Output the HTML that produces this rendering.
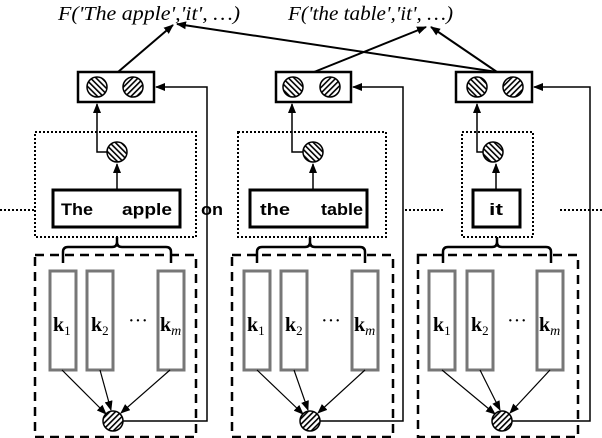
<!DOCTYPE html>
<html><head><meta charset="utf-8"><style>html,body{margin:0;padding:0;background:#fff}svg{display:block}</style></head>
<body>
<svg width="602" height="438" viewBox="0 0 602 438" xmlns="http://www.w3.org/2000/svg">
<defs>
<pattern id="hb" patternUnits="userSpaceOnUse" width="4" height="4" patternTransform="rotate(-45)"><rect width="4" height="4" fill="#fff"/><rect width="1.6" height="4" fill="#000"/></pattern>
<pattern id="hf" patternUnits="userSpaceOnUse" width="4" height="4" patternTransform="rotate(45)"><rect width="4" height="4" fill="#fff"/><rect width="1.6" height="4" fill="#000"/></pattern>
<marker id="a" markerWidth="10" markerHeight="8" refX="9" refY="4" orient="auto" markerUnits="userSpaceOnUse"><path d="M0,0 L10,4 L0,8 Z" fill="#000"/></marker>
</defs>
<g font-family="Liberation Serif, serif" font-style="italic" font-size="20" fill="#000">
<text x="58" y="20" textLength="182" lengthAdjust="spacingAndGlyphs">F('The apple','it', …)</text>
<text x="288" y="20" textLength="165" lengthAdjust="spacingAndGlyphs">F('the table','it', …)</text>
</g>
<g stroke="#000" stroke-width="2" fill="none">
<line x1="118" y1="72" x2="173" y2="25" marker-end="url(#a)"/>
<line x1="497" y1="72" x2="177" y2="24" marker-end="url(#a)"/>
<line x1="314" y1="72" x2="426" y2="27" marker-end="url(#a)"/>
<line x1="497" y1="72" x2="431" y2="27" marker-end="url(#a)"/>
</g>
<!-- Group 1 -->
<g stroke="#000" fill="none">
<rect x="78" y="72" width="76" height="30" stroke-width="2.5"/>
<circle cx="97" cy="87" r="10" fill="url(#hb)" stroke-width="1.5"/>
<circle cx="133" cy="87" r="10" fill="url(#hf)" stroke-width="1.5"/>
<rect x="35" y="132" width="161" height="105" stroke-width="2" stroke-dasharray="2,2"/>
<polyline points="107,152 97,152 97,104" stroke-width="1.5" marker-end="url(#a)"/>
<circle cx="117" cy="152" r="10" fill="url(#hb)" stroke-width="1.5"/>
<line x1="117" y1="190" x2="117" y2="164" stroke-width="1.5" marker-end="url(#a)"/>
<rect x="53" y="190" width="127" height="37" stroke-width="3"/>
<line x1="0" y1="210" x2="35" y2="210" stroke-width="2" stroke-dasharray="2,2"/>
<rect x="35" y="255" width="161" height="182" stroke-width="2.5" stroke-dasharray="9,6"/>
<path d="M63,263 V252 Q63,247 68,247 H112 Q117,247 117,242 V237 M117,242 Q117,247 122,247 H166 Q171,247 171,252 V263" stroke-width="2.5"/>
<polyline points="123,421 207,421 207,87 156,87" stroke-width="1.5" marker-end="url(#a)"/>
</g>
<!-- Group 2 -->
<g stroke="#000" fill="none">
<rect x="276" y="72" width="75" height="30" stroke-width="2.5"/>
<circle cx="293" cy="87" r="10" fill="url(#hb)" stroke-width="1.5"/>
<circle cx="330" cy="87" r="10" fill="url(#hf)" stroke-width="1.5"/>
<rect x="238" y="132" width="148" height="105" stroke-width="2" stroke-dasharray="2,2"/>
<polyline points="303,152 292,152 292,104" stroke-width="1.5" marker-end="url(#a)"/>
<circle cx="313" cy="152" r="10" fill="url(#hb)" stroke-width="1.5"/>
<line x1="313" y1="190" x2="313" y2="164" stroke-width="1.5" marker-end="url(#a)"/>
<rect x="250" y="190" width="117" height="37" stroke-width="3"/>
<line x1="405" y1="210" x2="445" y2="210" stroke-width="2" stroke-dasharray="2,2"/>
<rect x="232" y="255" width="161" height="182" stroke-width="2.5" stroke-dasharray="9,6"/>
<path d="M257,263 V252 Q257,247 262,247 H305 Q310,247 310,242 V237 M310,242 Q310,247 315,247 H360 Q365,247 365,252 V263" stroke-width="2.5"/>
<polyline points="320,421 403,421 403,87 353,87" stroke-width="1.5" marker-end="url(#a)"/>
</g>
<!-- Group 3 -->
<g stroke="#000" fill="none">
<rect x="456" y="72" width="76" height="30" stroke-width="2.5"/>
<circle cx="477" cy="87" r="10" fill="url(#hb)" stroke-width="1.5"/>
<circle cx="513" cy="87" r="10" fill="url(#hf)" stroke-width="1.5"/>
<rect x="462" y="132" width="71" height="105" stroke-width="2" stroke-dasharray="2,2"/>
<polyline points="483,152 477,152 477,104" stroke-width="1.5" marker-end="url(#a)"/>
<circle cx="493" cy="152" r="10" fill="url(#hb)" stroke-width="1.5"/>
<line x1="496" y1="190" x2="496" y2="164" stroke-width="1.5" marker-end="url(#a)"/>
<rect x="473" y="190" width="47" height="37" stroke-width="3"/>
<line x1="560" y1="210" x2="602" y2="210" stroke-width="2" stroke-dasharray="2,2"/>
<rect x="418" y="255" width="160" height="182" stroke-width="2.5" stroke-dasharray="9,6"/>
<path d="M443,263 V252 Q443,247 448,247 H492 Q497,247 497,242 V237 M497,242 Q497,247 502,247 H546 Q551,247 551,252 V263" stroke-width="2.5"/>
<polyline points="512,421 590,421 590,87 534,87" stroke-width="1.5" marker-end="url(#a)"/>
</g>
<!-- K bars -->
<g stroke="#777" stroke-width="3" fill="#fff">
<rect x="50" y="271" width="26" height="99"/><rect x="87" y="271" width="26" height="99"/><rect x="158" y="271" width="26" height="99"/>
<rect x="244" y="271" width="26" height="99"/><rect x="281" y="271" width="26" height="99"/><rect x="352" y="271" width="26" height="99"/>
<rect x="429" y="271" width="26" height="99"/><rect x="467" y="271" width="26" height="99"/><rect x="537" y="271" width="26" height="99"/>
</g>
<g stroke="#000" stroke-width="1.2" fill="none">
<line x1="62" y1="370" x2="106" y2="414" marker-end="url(#a)"/><line x1="100" y1="370" x2="111" y2="410" marker-end="url(#a)"/><line x1="170" y1="370" x2="121" y2="413" marker-end="url(#a)"/>
<line x1="257" y1="370" x2="303" y2="414" marker-end="url(#a)"/><line x1="294" y1="370" x2="308" y2="410" marker-end="url(#a)"/><line x1="365" y1="370" x2="318" y2="413" marker-end="url(#a)"/>
<line x1="442" y1="370" x2="495" y2="414" marker-end="url(#a)"/><line x1="480" y1="370" x2="500" y2="410" marker-end="url(#a)"/><line x1="550" y1="370" x2="510" y2="413" marker-end="url(#a)"/>
</g>
<g stroke="#000" stroke-width="1.5">
<circle cx="113" cy="421" r="10" fill="url(#hf)"/>
<circle cx="310" cy="421" r="10" fill="url(#hf)"/>
<circle cx="502" cy="421" r="10" fill="url(#hf)"/>
</g>
<g font-family="Liberation Sans, sans-serif" font-weight="bold" font-size="17" fill="#000">
<text x="61" y="215" textLength="32" lengthAdjust="spacingAndGlyphs">The</text><text x="122" y="215" textLength="50" lengthAdjust="spacingAndGlyphs">apple</text>
<text x="201" y="215" textLength="22" lengthAdjust="spacingAndGlyphs">on</text>
<text x="260" y="215" textLength="30" lengthAdjust="spacingAndGlyphs">the</text><text x="321" y="215" textLength="42" lengthAdjust="spacingAndGlyphs">table</text>
<text x="489" y="215" textLength="14" lengthAdjust="spacingAndGlyphs">it</text>
</g>
<g font-family="Liberation Serif, serif" font-size="20" fill="#000">
<text x="53" y="331" font-weight="bold">k<tspan font-size="13" font-weight="normal" dy="4">1</tspan></text>
<text x="91" y="331" font-weight="bold">k<tspan font-size="13" font-weight="normal" dy="4">2</tspan></text>
<text x="128" y="327">···</text>
<text x="160" y="331" font-weight="bold">k<tspan font-size="14" font-style="italic" font-weight="normal" dy="4">m</tspan></text>
<text x="247" y="331" font-weight="bold">k<tspan font-size="13" font-weight="normal" dy="4">1</tspan></text>
<text x="285" y="331" font-weight="bold">k<tspan font-size="13" font-weight="normal" dy="4">2</tspan></text>
<text x="321" y="327">···</text>
<text x="354" y="331" font-weight="bold">k<tspan font-size="14" font-style="italic" font-weight="normal" dy="4">m</tspan></text>
<text x="433" y="331" font-weight="bold">k<tspan font-size="13" font-weight="normal" dy="4">1</tspan></text>
<text x="471" y="331" font-weight="bold">k<tspan font-size="13" font-weight="normal" dy="4">2</tspan></text>
<text x="507" y="327">···</text>
<text x="539" y="331" font-weight="bold">k<tspan font-size="14" font-style="italic" font-weight="normal" dy="4">m</tspan></text>
</g>
</svg>
</body></html>
